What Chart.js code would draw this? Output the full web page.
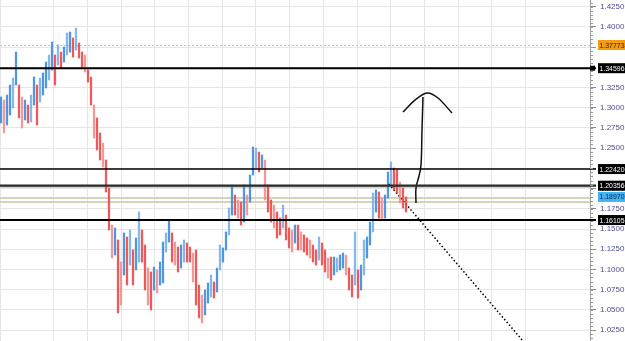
<!DOCTYPE html>
<html><head><meta charset="utf-8">
<script src="https://cdn.jsdelivr.net/npm/chart.js@4.4.1/dist/chart.umd.min.js"></script>
<style>html,body{margin:0;padding:0;background:#fff;overflow:hidden}canvas{display:block}</style>
</head><body>
<canvas id="c" width="625" height="341"></canvas>
<script>
// ---- price bars (high / low), one per period ----
const highs = [1.3133,1.3096,1.3158,1.3282,1.3369,1.3690,1.3282,1.3133,1.3096,1.3034,1.3158,1.3381,1.3282,1.3369,1.3431,1.3566,1.3653,1.3814,1.3653,1.3777,1.3690,1.3752,1.3926,1.3938,1.3864,1.3987,1.3802,1.3690,1.3653,1.3468,1.3381,1.3034,1.2874,1.2688,1.2564,1.2354,1.2007,1.1549,1.1512,1.1364,1.1091,1.1451,1.1401,1.1488,1.1240,1.1389,1.1710,1.1488,1.1302,1.1017,1.0968,1.1029,1.0993,1.1091,1.1339,1.1451,1.1611,1.1451,1.1339,1.1277,1.1302,1.1364,1.1327,1.1277,1.1203,1.1240,1.0807,1.0683,1.0745,1.0832,1.0931,1.0844,1.1017,1.1302,1.1265,1.1463,1.1760,1.2044,1.1921,1.1859,1.1834,1.2044,1.1921,1.2168,1.2514,1.2502,1.2453,1.2416,1.2354,1.2044,1.1859,1.1797,1.1710,1.1636,1.1797,1.1673,1.1512,1.1488,1.1549,1.1549,1.1463,1.1426,1.1389,1.1364,1.1302,1.1240,1.1401,1.1327,1.1240,1.1141,1.1153,1.1153,1.1141,1.1178,1.1203,1.1178,1.1017,1.0931,1.1463,1.0993,1.1054,1.1364,1.1401,1.1586,1.1946,1.1983,1.1958,1.1884,1.1921,1.2205,1.2329,1.2255,1.2230,1.2081,1.2007,1.1896];
const lows  = [1.2812,1.2688,1.2787,1.2911,1.2997,1.3282,1.2874,1.2750,1.2849,1.2812,1.2824,1.3034,1.2787,1.3071,1.3158,1.3245,1.3344,1.3468,1.3282,1.3529,1.3492,1.3566,1.3653,1.3690,1.3628,1.3715,1.3616,1.3504,1.3443,1.3319,1.3034,1.2626,1.2478,1.2354,1.2267,1.1958,1.1488,1.1141,1.1178,1.0461,1.0559,1.0931,1.0807,1.1054,1.0807,1.0993,1.1091,1.1091,1.0745,1.0559,1.0498,1.0745,1.0708,1.0807,1.0832,1.1215,1.1339,1.1091,1.1054,1.0968,1.1017,1.1091,1.1091,1.1091,1.0844,1.0559,1.0399,1.0337,1.0436,1.0584,1.0658,1.0646,1.0720,1.0993,1.1091,1.1240,1.1426,1.1673,1.1673,1.1636,1.1549,1.1586,1.1673,1.1834,1.2168,1.2255,1.2205,1.2255,1.1859,1.1710,1.1586,1.1512,1.1389,1.1426,1.1512,1.1364,1.1265,1.1215,1.1327,1.1240,1.1240,1.1215,1.1178,1.1141,1.1091,1.1054,1.1116,1.1054,1.0968,1.0894,1.0869,1.0931,1.0968,1.0993,1.1017,1.0931,1.0745,1.0658,1.0807,1.0646,1.0745,1.0931,1.1141,1.1302,1.1463,1.1710,1.1636,1.1611,1.1636,1.1884,1.2032,1.1983,1.1946,1.1822,1.1760,1.1710];

// ---- y axis ticks ----
const tickValues = [1.025,1.05,1.075,1.1,1.125,1.15,1.175,1.2,1.225,1.25,1.275,1.3,1.325,1.35,1.375,1.4,1.425];

// ---- horizontal levels ----
const levelPrices = [1.3490, 1.2242, 1.2036, 1.1611];
const levelLabels = ['1.34596', '1.22420', '1.20356', '1.16105'];
const levelWidths = [2, 1.5, 2.2, 2];
const bandPrices = [1.2015, 1.1884, 1.1834];
const lastPrice = 1.37773;
const bidPrice = 1.18970;

// ---- trend line (period index, price) ----
const trendX = [129.3, 176];
const trendY = [1.2056, 1.0027];

// ---- hand drawn arrow (period index, price) ----
const shaftX = [138.33, 138.33, 139.33, 140.0, 140.33, 140.67];
const shaftY = [1.1822, 1.2007, 1.2156, 1.2292, 1.2725, 1.3133];
const headX = [134.0, 138.0, 142.0, 145.67, 150.33];
const headY = [1.2948, 1.3096, 1.3183, 1.3121, 1.2936];

const barData = highs.map((h, i) => ({x: i, y: [lows[i], h]}));
const barColors = highs.map((h, i) => {
  const blue = i % 3 === 1 ? 'rgba(120,175,230,0.9)' : 'rgba(60,140,220,0.9)';
  const red = i % 3 === 1 ? 'rgba(245,140,140,0.9)' : 'rgba(236,72,72,0.9)';
  if (i === 0) return blue;
  const m = (h + lows[i]) / 2, pm = (highs[i-1] + lows[i-1]) / 2;
  return m >= pm ? blue : red;
});

const overlay = {
  id: 'overlay',
  beforeDatasetsDraw(chart) {
    const {ctx, chartArea: a, scales: {y}} = chart;
    ctx.save();
    ctx.strokeStyle = '#c4c4c4'; ctx.lineWidth = 1; ctx.setLineDash([2, 2]);
    let py = Math.round(y.getPixelForValue(lastPrice)) + 0.5;
    ctx.beginPath(); ctx.moveTo(a.left, py); ctx.lineTo(a.right, py); ctx.stroke();
    ctx.setLineDash([]);
    ctx.strokeStyle = '#d4d4bc'; ctx.lineWidth = 2;
    bandPrices.forEach(p => {
      const yy = Math.round(y.getPixelForValue(p));
      ctx.beginPath(); ctx.moveTo(a.left, yy); ctx.lineTo(a.right, yy); ctx.stroke();
    });
    ctx.restore();
  },
  afterDatasetsDraw(chart) {
    const {ctx, chartArea: a, scales: {y}} = chart;
    ctx.save();
    levelPrices.forEach((p, i) => {
      const yy = y.getPixelForValue(p);
      ctx.strokeStyle = i === 2 ? '#2a2a2a' : '#000';
      ctx.lineWidth = levelWidths[i];
      ctx.beginPath(); ctx.moveTo(a.left, yy); ctx.lineTo(a.right + 6, yy); ctx.stroke();
    });
    ctx.restore();
  },
  afterDraw(chart) {
    const {ctx, chartArea: a, scales: {y}} = chart;
    ctx.save();
    ctx.strokeStyle = '#9a9a9a'; ctx.lineWidth = 1;
    for (let k = 0; k <= 84; k++) {
      const v = 1.015 + k * 0.005;
      const yy = Math.round(y.getPixelForValue(v)) + 0.5;
      if (yy < 0 || yy > 341) continue;
      ctx.beginPath(); ctx.moveTo(a.right, yy); ctx.lineTo(a.right + 3, yy); ctx.stroke();
    }
    const ys = y.getPixelForValue(levelPrices[0]);
    ctx.fillStyle = '#000'; ctx.fillRect(a.right, ys - 2.5, 5, 5);
    ctx.font = '7.5px "Liberation Sans"';
    ctx.textBaseline = 'middle'; ctx.textAlign = 'left';
    const box = (p, txt, bg, fg) => {
      const yy = y.getPixelForValue(p);
      ctx.fillStyle = bg; ctx.fillRect(598, yy - 5, 27, 10);
      ctx.fillStyle = fg; ctx.fillText(txt, 599.5, yy + 0.5, 25);
    };
    levelPrices.forEach((p, i) => box(p, levelLabels[i], '#000', '#fff'));
    box(lastPrice, '1.37773', '#f39c12', '#3a2000');
    box(bidPrice, '1.18970', '#3fb4f2', '#10205a');
    ctx.restore();
  }
};

new Chart(document.getElementById('c'), {
  data: {
    datasets: [
      { type: 'bar', data: barData, backgroundColor: barColors, barThickness: 1.6, grouped: false, xAxisID: 'x', yAxisID: 'y' },
      { type: 'line', data: trendX.map((x, i) => ({x, y: trendY[i]})), borderColor: '#000', borderWidth: 1.5, borderDash: [1.5, 2.2], pointRadius: 0, xAxisID: 'x', yAxisID: 'y' },
      { type: 'line', data: shaftX.map((x, i) => ({x, y: shaftY[i]})), borderColor: '#111', borderWidth: 1.5, tension: 0.4, pointRadius: 0, xAxisID: 'x', yAxisID: 'y' },
      { type: 'line', data: headX.map((x, i) => ({x, y: headY[i]})), borderColor: '#111', borderWidth: 1.5, tension: 0.3, pointRadius: 0, xAxisID: 'x', yAxisID: 'y' }
    ]
  },
  options: {
    responsive: false, devicePixelRatio: 1, animation: false,
    layout: { padding: 0 },
    plugins: { legend: { display: false }, tooltip: { enabled: false } },
    scales: {
      x: { type: 'linear', display: false, offset: false, min: -1/3, max: 589/3 },
      xg: { type: 'linear', position: 'bottom', offset: false, min: -20/33.7, max: 570/33.7,
            ticks: { display: false, stepSize: 1 }, grid: { color: '#e6e6e6', drawTicks: false, offset: false },
            border: { display: false }, afterFit: s => { s.height = 0; s.paddingLeft = 0; s.paddingRight = 0; } },
      y: { type: 'linear', position: 'right', min: 1.0114, max: 1.4334,
           afterBuildTicks: s => { s.ticks = tickValues.map(v => ({value: v})); },
           afterFit: s => { s.width = 35; s.paddingTop = 0; s.paddingBottom = 0; },
           ticks: { callback: v => Number(v).toFixed(4), color: '#4e4e8e', font: { family: 'Liberation Sans', size: 8 }, padding: 4, autoSkip: false },
           grid: { color: '#e6e6e6', tickColor: '#8a8a8a', tickLength: 6 },
           border: { color: '#a0a0a0' } }
    }
  },
  plugins: [overlay]
});
</script>
</body></html>
